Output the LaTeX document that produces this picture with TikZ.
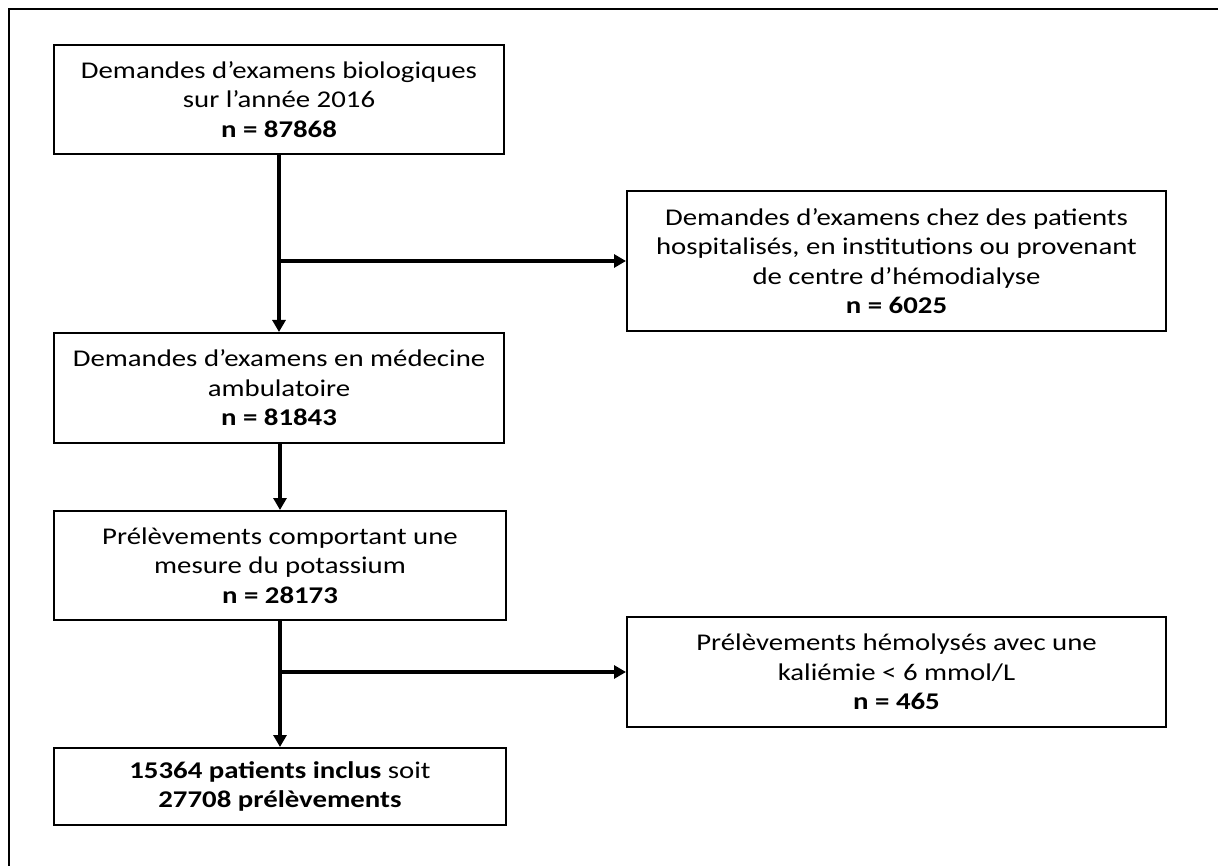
\documentclass[tikz,border=0pt]{standalone}
\usepackage{fontspec}
\setmainfont{Carlito}[FakeStretch=1.2]
\usetikzlibrary{arrows.meta}
\begin{document}
\begin{tikzpicture}[x=1pt,y=-1pt,
  box/.style={draw=black,line width=2pt,align=center,inner sep=0pt,
    font=\fontsize{24}{29.5}\selectfont},
  arr/.style={line width=4pt,-{Triangle[length=12pt,width=13pt]}},
  frame/.style={line width=2pt}]
\useasboundingbox (0,0) rectangle (1218,866);
\fill[white] (0,0) rectangle (1218,866);
\draw[frame] (9,870) -- (9,9) -- (1222,9);
\node[box,minimum width=450pt,minimum height=109pt] (b1) at (279,99.5)
  {Demandes d’examens biologiques\\sur l’année 2016\\\textbf{n = 87868}};
\node[box,minimum width=450pt,minimum height=110pt] (b2) at (279,388)
  {Demandes d’examens en médecine\\ambulatoire\\\textbf{n = 81843}};
\node[box,minimum width=452pt,minimum height=109pt] (b3) at (280,565.5)
  {Prélèvements comportant une\\mesure du potassium\\\textbf{n = 28173}};
\node[box,minimum width=452pt,minimum height=77pt] (b4) at (280,786.5)
  {\textbf{15364 patients inclus} soit\\\textbf{27708 prélèvements}};
\node[box,minimum width=539pt,minimum height=140pt] (r1) at (896.5,261)
  {Demandes d’examens chez des patients\\hospitalisés, en institutions ou provenant\\de centre d’hémodialyse\\\textbf{n = 6025}};
\node[box,minimum width=539pt,minimum height=110pt] (r2) at (896.5,672)
  {Prélèvements hémolysés avec une\\kaliémie < 6 mmol/L\\\textbf{n = 465}};
\draw[arr] (b1.south) -- (b2.north);
\draw[arr] (b1.south |- r1.west) -- (r1.west);
\draw[arr] (b3.north |- b2.south) -- (b3.north);
\draw[arr] (b3.south) -- (b4.north);
\draw[arr] (b3.south |- r2.west) -- (r2.west);
\end{tikzpicture}
\end{document}
